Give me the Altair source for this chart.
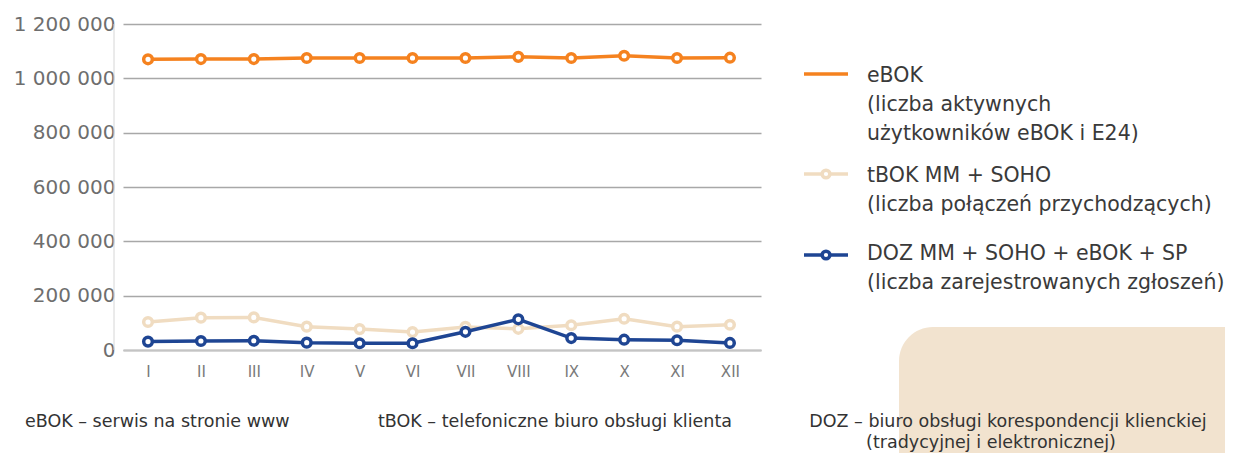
import altair as alt
import pandas as pd

months = ["I", "II", "III", "IV", "V", "VI", "VII", "VIII", "IX", "X", "XI", "XII"]
series_names = ["eBOK", "tBOK", "DOZ"]
ebok = [1070000, 1071000, 1071000, 1075000, 1075000, 1075000, 1075000, 1079000, 1075000, 1083000, 1075000, 1076000]
tbok = [103000, 119000, 120000, 86000, 77000, 66000, 85000, 78000, 91000, 115000, 86000, 93000]
doz = [31000, 33000, 34000, 27000, 25000, 25000, 67000, 113000, 44000, 38000, 36000, 26000]
colors = ["#F5821F", "#F0DCC1", "#1E4593"]
y_ticks = [0, 200000, 400000, 600000, 800000, 1000000, 1200000]

legend_texts = [
    "eBOK\n(liczba aktywnych\nużytkowników eBOK i E24)",
    "tBOK MM + SOHO\n(liczba połączeń przychodzących)",
    "DOZ MM + SOHO + eBOK + SP\n(liczba zarejestrowanych zgłoszeń)",
]
footer_texts = [
    "eBOK – serwis na stronie www",
    "tBOK – telefoniczne biuro obsługi klienta",
    "DOZ – biuro obsługi korespondencji klienckiej",
    "(tradycyjnej i elektronicznej)",
]

rows = []
for name, vals in zip(series_names, [ebok, tbok, doz]):
    for m, v in zip(months, vals):
        rows.append({"month": m, "series": name, "value": v})
df = pd.DataFrame(rows)

W, H = 638, 326
FONT = "DejaVu Sans"

x_enc = alt.X("month:N", sort=months,
              scale=alt.Scale(type="point", padding=0.53, align=0.446),
              axis=alt.Axis(title=None, labelAngle=0, labelFontSize=15, labelColor="#7a7a7a",
                            labelFont=FONT, labelPadding=14, ticks=False,
                            domainColor="#c4c4c4", domainWidth=2, grid=False))
y_enc = alt.Y("value:Q", scale=alt.Scale(domain=[0, 1200000], nice=False),
              axis=alt.Axis(title=None, values=y_ticks, labelFontSize=20, labelColor="#6e6e6e",
                            labelFont=FONT, labelPadding=8, ticks=False, domain=False,
                            gridColor="#a8a8a8", gridWidth=1.3,
                            labelExpr="replace(format(datum.value, ','), /,/g, ' ')"))

one = pd.DataFrame({"k": [0]})

bg_rect = alt.Chart(one).mark_rect(color="#F2E3CF", cornerRadiusTopLeft=34).encode(
    x=alt.value(776), x2=alt.value(1300), y=alt.value(303), y2=alt.value(600))

side_rule = alt.Chart(one).mark_rule(color="#d6d6d6", strokeWidth=1).encode(
    x=alt.value(-9), y=alt.value(0), y2=alt.value(H))

layers = [bg_rect, side_rule]
for name, col in zip(series_names, colors):
    base = alt.Chart(df).transform_filter(alt.datum.series == name)
    line = base.mark_line(color=col, strokeWidth=3.5).encode(x=x_enc, y=y_enc)
    pts = base.mark_point(shape="circle", filled=True, fill="white", stroke=col,
                          strokeWidth=3.5, size=75, opacity=1).encode(x=x_enc, y=y_enc)
    layers += [line, pts]

# legend
leg_text_y = [58, 158, 236]
leg_sym_y = [50, 150, 231]
for i, (txt, col) in enumerate(zip(legend_texts, colors)):
    layers.append(alt.Chart(one).mark_rule(color=col, strokeWidth=3.5).encode(
        x=alt.value(681), x2=alt.value(725), y=alt.value(leg_sym_y[i])))
    if i > 0:
        layers.append(alt.Chart(one).mark_point(shape="circle", filled=True, fill="white",
                                                 stroke=col, strokeWidth=3.5, size=60, opacity=1).encode(
            x=alt.value(703), y=alt.value(leg_sym_y[i])))
    layers.append(alt.Chart(one).mark_text(align="left", baseline="alphabetic", lineBreak="\n",
                                           lineHeight=29, fontSize=20.5, font=FONT,
                                           color="#3a3a3a").encode(
        x=alt.value(744), y=alt.value(leg_text_y[i]), text=alt.value(txt)))

# footer
foot_pos = [(-98, 403, "left"), (255, 403, "left"), (885, 403, "center"), (868, 424, "center")]
for txt, (fx, fy, al) in zip(footer_texts, foot_pos):
    layers.append(alt.Chart(one).mark_text(align=al, baseline="alphabetic", fontSize=17.5,
                                           font=FONT, color="#333333").encode(
        x=alt.value(fx), y=alt.value(fy), text=alt.value(txt)))

chart = alt.layer(*layers).properties(
    width=W, height=H,
    autosize=alt.AutoSizeParams(type="none"),
    padding={"left": 115, "top": 16, "right": 464, "bottom": 103},
).configure_view(stroke=None)

chart.save("out.html", embed_options={"renderer": "svg", "actions": False})
